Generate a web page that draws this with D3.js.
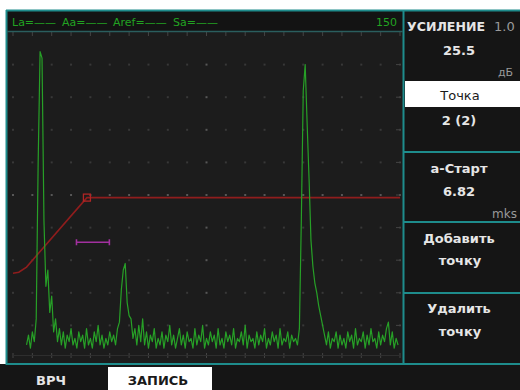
<!DOCTYPE html>
<html>
<head>
<meta charset="utf-8">
<script src="https://cdn.jsdelivr.net/npm/d3@7"></script>
<style>
  body { margin: 0; background: #fff; }
  svg { display: block; }
  text { font-family: "DejaVu Sans", sans-serif; }
</style>
</head>
<body>
<script>
// A-scan trace: amplitude in % of screen height, one sample every 0.1 division
var sampleStart = 0.7;
var sampleStep = 0.1;
var ascan = [
  4, 7, 3, 8, 5, 12, 60, 94, 92, 42, 22, 27, 14, 19, 8, 12, 5, 9, 4, 8,
  3, 7, 5, 9, 4, 6, 3, 8, 5, 7, 3, 9, 4, 6, 3, 8, 5, 10, 4, 7,
  3, 6, 4, 8, 5, 7, 4, 9, 11, 21, 27, 29, 17, 13, 12, 6, 9, 4, 10, 5,
  12, 4, 8, 3, 7, 5, 9, 3, 6, 4, 8, 3, 7, 5, 10, 4, 7, 3, 6, 9,
  4, 7, 3, 8, 5, 6, 3, 9, 4, 7, 5, 10, 3, 6, 4, 8, 5, 7, 3, 9,
  4, 6, 3, 8, 5, 7, 4, 9, 3, 6, 5, 8, 4, 10, 3, 7, 5, 6, 3, 8,
  4, 7, 5, 9, 3, 6, 4, 8, 5, 7, 3, 9, 4, 6, 5, 8, 3, 7, 5, 6,
  4, 9, 42, 82, 90, 72, 55, 36, 28, 23, 20, 16, 13, 10, 7, 4, 8, 3, 6, 5,
  8, 3, 7, 4, 6, 3, 8, 5, 7, 3, 9, 4, 6, 5, 8, 3, 7, 4, 9, 5,
  6, 3, 8, 4, 7, 5, 9, 11, 4, 8, 3, 6, 4
];

// TVG (ВРЧ) curve points: position in divisions, level in %
var tvgPos = [0, 0.3, 0.7, 3.82, 20];
var tvgLevel = [26.0, 26.3, 27.9, 49.2, 49.2];
var tvgActive = 3;

// gate
var gateStart = 3.28;
var gateEnd = 4.98;
var gateLevel = 35.5;

var headerLabels = ["La=——", "Aa=——", "Aref=——", "Sa=——"];
var rangeLabel = "150";

var gainTitle = "УСИЛЕНИЕ";
var gainStep = "1.0";
var gainValue = "25.5";
var gainUnit = "дБ";
var pointTitle = "Точка";
var pointValue = "2 (2)";
var startTitle = "а-Старт";
var startValue = "6.82";
var startUnit = "mks";
var addLines = ["Добавить", "точку"];
var delLines = ["Удалить", "точку"];
var bottomTabs = ["ВРЧ", "ЗАПИСЬ"];

var w = 520;
var h = 390;
var teal = "#1e8c8c";

var xScale = d3.scaleLinear().domain([0, 20]).range([13, 400]);
var yScale = d3.scaleLinear().domain([0, 100]).range([358, 32]);

var svg = d3.select("body").append("svg").attr("width", w).attr("height", h);

// frame
svg.append("rect").attr("x", 0).attr("y", 0).attr("width", w).attr("height", h).attr("fill", "#fff");
svg.append("rect").attr("x", 6).attr("y", 10).attr("width", w - 6).attr("height", 355).attr("fill", "#151515");
svg.append("rect").attr("x", 0).attr("y", 364).attr("width", w).attr("height", 26).attr("fill", "#151515");
svg.append("rect").attr("x", 7).attr("y", 11).attr("width", 396).attr("height", 20).attr("fill", "#131313");
svg.append("rect").attr("x", 7).attr("y", 32).attr("width", 396).attr("height", 331).attr("fill", "#1c1c1c");

// grid dots and edge ticks
var g = svg.append("g");
var cols = d3.range(0, 21);
var rows = d3.range(1, 10);
cols.forEach(function(c) {
  rows.forEach(function(r) {
    var center = (c == 10 || r == 5);
    g.append("rect")
      .attr("x", xScale(c) - 1).attr("y", yScale(r * 10) - 1)
      .attr("width", 2).attr("height", 2)
      .attr("fill", center ? "#575757" : "#383838");
  });
  g.append("line").attr("x1", xScale(c)).attr("x2", xScale(c))
    .attr("y1", 32).attr("y2", 36).attr("stroke", "#444");
  g.append("line").attr("x1", xScale(c)).attr("x2", xScale(c))
    .attr("y1", 353).attr("y2", 358).attr("stroke", "#444");
});
g.append("line").attr("x1", 13).attr("x2", 400).attr("y1", 355.5).attr("y2", 355.5)
  .attr("stroke", "#2e2e2e");
rows.forEach(function(r) {
  g.append("line").attr("x1", 396).attr("x2", 401)
    .attr("y1", yScale(r * 10)).attr("y2", yScale(r * 10)).attr("stroke", "#444");
});

svg.append("clipPath").attr("id", "plotclip")
  .append("rect").attr("x", 7).attr("y", 32).attr("width", 395).attr("height", 330);

// TVG curve
var tvgData = tvgPos.map(function(p, i) { return [p, tvgLevel[i]]; });
var lineGen = d3.line()
  .x(function(d) { return xScale(d[0]); })
  .y(function(d) { return yScale(d[1]); });

svg.append("path")
  .datum(tvgData)
  .attr("clip-path", "url(#plotclip)")
  .attr("d", lineGen)
  .attr("fill", "none")
  .attr("stroke", "#8f1d1d")
  .attr("stroke-width", 1.6);

svg.append("rect")
  .attr("x", xScale(tvgPos[tvgActive]) - 3.5)
  .attr("y", yScale(tvgLevel[tvgActive]) - 3.5)
  .attr("width", 7).attr("height", 7)
  .attr("fill", "none")
  .attr("stroke", "#b02525")
  .attr("stroke-width", 1.3);

// gate
var gate = svg.append("g").attr("stroke", "#a2309f").attr("stroke-width", 1.6);
gate.append("line").attr("x1", xScale(gateStart)).attr("x2", xScale(gateEnd))
  .attr("y1", yScale(gateLevel)).attr("y2", yScale(gateLevel));
[gateStart, gateEnd].forEach(function(p) {
  gate.append("line").attr("x1", xScale(p)).attr("x2", xScale(p))
    .attr("y1", yScale(gateLevel) - 3).attr("y2", yScale(gateLevel) + 3);
});

// A-scan
svg.append("path")
  .datum(ascan)
  .attr("clip-path", "url(#plotclip)")
  .attr("d", d3.line()
    .x(function(d, i) { return xScale(sampleStart + i * sampleStep); })
    .y(function(d) { return yScale(d); }))
  .attr("fill", "none")
  .attr("stroke", "#27a027")
  .attr("stroke-width", 1.2)
  .attr("stroke-linejoin", "round");

// header
var headX = [12, 62, 113, 173];
headerLabels.forEach(function(t, i) {
  svg.append("text").attr("x", headX[i]).attr("y", 26)
    .attr("font-size", 11).attr("fill", "#22a322").text(t);
});
svg.append("text").attr("x", 397).attr("y", 26).attr("text-anchor", "end")
  .attr("font-size", 11).attr("fill", "#22a322").text(rangeLabel);

// borders
var b = svg.append("g").attr("stroke", teal).attr("stroke-width", 2);
b.append("line").attr("x1", 6).attr("x2", w).attr("y1", 10.5).attr("y2", 10.5);
b.append("line").attr("x1", 6.5).attr("x2", 6.5).attr("y1", 10).attr("y2", 365);
b.append("line").attr("x1", 403.5).attr("x2", 403.5).attr("y1", 10).attr("y2", 365);
b.append("line").attr("x1", 6).attr("x2", w).attr("y1", 364).attr("y2", 364);
[152, 222, 293].forEach(function(y) {
  b.append("line").attr("x1", 403).attr("x2", w).attr("y1", y).attr("y2", y);
});
svg.append("line").attr("x1", 7).attr("x2", 403).attr("y1", 31.5).attr("y2", 31.5)
  .attr("stroke", "#2a5e5e").attr("stroke-width", 1.5);

// right panel
svg.append("rect").attr("x", 405).attr("y", 81).attr("width", 115).attr("height", 26).attr("fill", "#fff");

function label(x, y, t, opts) {
  opts = opts || {};
  return svg.append("text")
    .attr("x", x).attr("y", y)
    .attr("text-anchor", opts.anchor || "middle")
    .attr("font-size", opts.size || 13)
    .attr("font-weight", opts.weight || "bold")
    .attr("fill", opts.fill || "#e6e6e6")
    .text(t);
}

label(407, 31, gainTitle, {anchor: "start"}).attr("textLength", 78).attr("lengthAdjust", "spacingAndGlyphs");
label(494, 31, gainStep, {anchor: "start", weight: "normal", fill: "#9a9a9a"});
label(459, 55, gainValue);
label(498, 76, gainUnit, {anchor: "start", weight: "normal", fill: "#9a9a9a", size: 11});
label(460, 100, pointTitle, {weight: "normal", fill: "#1a1a1a"});
label(459, 125, pointValue);
label(459, 173, startTitle);
label(459, 196, startValue);
label(492, 218, startUnit, {anchor: "start", weight: "normal", fill: "#9a9a9a", size: 12});
label(459, 243, addLines[0]);
label(460, 265, addLines[1]);
label(459, 313, delLines[0]);
label(460, 336, delLines[1]);

// bottom tabs
svg.append("rect").attr("x", 108).attr("y", 367).attr("width", 104).attr("height", 23).attr("fill", "#fff");
label(51, 385, bottomTabs[0]);
label(158, 385, bottomTabs[1], {fill: "#1a1a1a"});
</script>
</body>
</html>
